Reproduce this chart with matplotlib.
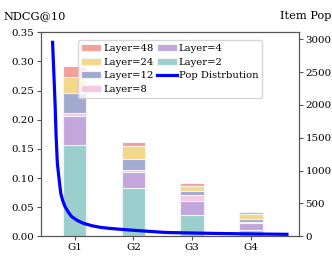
import matplotlib.pyplot as plt
import numpy as np

plt.rcParams['font.family'] = 'DejaVu Serif'

groups = ["G1", "G2", "G3", "G4"]
layers = ["Layer=48", "Layer=24", "Layer=12", "Layer=8", "Layer=4", "Layer=2"]
colors = ["#f3a098", "#f3d88a", "#a3aad2", "#f7c8e2", "#c3a6dc", "#9acfcd"]

# NDCG@10 of each group for each layer count (bars overlaid, tallest first)
ndcg_l48 = [0.292, 0.161, 0.091, 0.041]
ndcg_l24 = [0.273, 0.155, 0.087, 0.038]
ndcg_l12 = [0.245, 0.132, 0.078, 0.029]
ndcg_l8 = [0.211, 0.113, 0.071, 0.025]
ndcg_l4 = [0.207, 0.110, 0.061, 0.022]
ndcg_l2 = [0.156, 0.082, 0.037, 0.010]

# item popularity curve
pop_x = [-0.373, -0.33, -0.314, -0.292, -0.26, -0.234, -0.2, -0.161, -0.1, -0.047,
         0.05, 0.149, 0.3, 0.432, 0.6, 0.771, 1.1, 1.55, 2.0, 2.5, 3.0, 3.61]
pop_y = [2954, 2000, 1540, 1112, 850, 655, 540, 451, 360, 298,
         240, 198, 160, 137, 120, 107, 85, 58, 50, 42, 36, 30]

fig = plt.figure(figsize=(3.32, 2.66), dpi=100)
ax = fig.add_axes([0.1226, 0.1117, 0.7771, 0.7669])
x = np.arange(len(groups))

all_vals = [ndcg_l48, ndcg_l24, ndcg_l12, ndcg_l8, ndcg_l4, ndcg_l2]
handles = []
for lab, c, v in zip(layers, colors, all_vals):
    b = ax.bar(x, v, 0.4, color=c, edgecolor="#f4f4f4", linewidth=0.8, label=lab)
    handles.append(b)

ax.set_xlim(-0.575, 3.81)
ax.set_ylim(0, 0.35)
ax.set_xticks(x)
ax.set_xticklabels(groups)
ax.tick_params(labelsize=7.4, length=3, color="#555555", pad=2)
for s in ax.spines.values():
    s.set_color("#555555")

ax2 = ax.twinx()
ln, = ax2.plot(pop_x, pop_y, color="blue", linewidth=2.3, label="Pop Distrbution")
ax2.set_ylim(0, 3107)
ax2.tick_params(labelsize=7.4, length=3, color="#555555", pad=2)
for s in ax2.spines.values():
    s.set_color("#555555")

fig.text(0.01, 0.94, "NDCG@10", fontsize=8.2, va="center")
fig.text(0.997, 0.94, "Item Pop", fontsize=8.2, va="center", ha="right")

ax2.legend(handles + [ln], layers + ["Pop Distrbution"], ncol=2, fontsize=7.2,
           loc="upper left", bbox_to_anchor=(0.125, 0.985), handlelength=2.0,
           handletextpad=0.15, columnspacing=0.4, labelspacing=0.48, borderpad=0.35)

fig.savefig("out.png", dpi=100)
